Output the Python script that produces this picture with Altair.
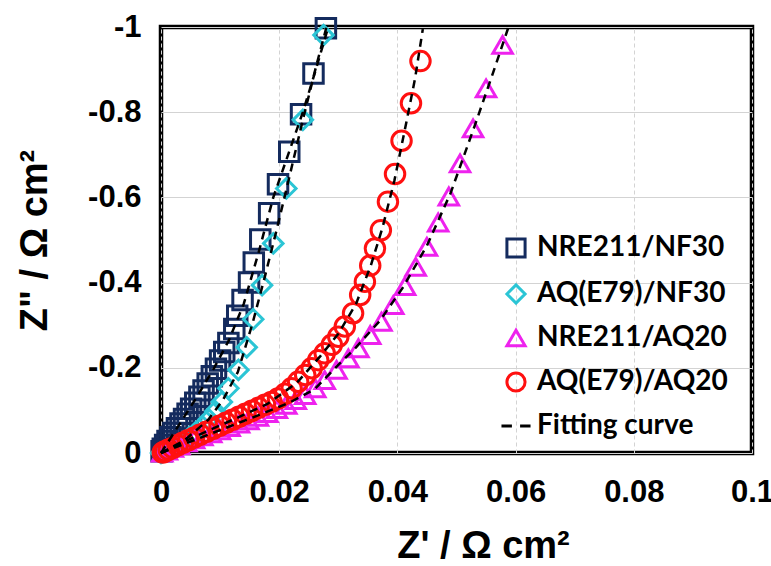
import altair as alt
import pandas as pd

# ---- series definitions -------------------------------------------------
SERIES = ["NRE211/NF30", "AQ(E79)/NF30", "NRE211/AQ20", "AQ(E79)/AQ20", "Fitting curve"]
COLORS = ["#142B5E", "#2BC5D5", "#EE22EE", "#FF1010", "#000000"]
SHAPES = ["square", "diamond", "triangle-up", "circle", "M-1.6,0L-0.45,0M0.45,0L1.6,0"]

# ---- measured impedance (Z' , Z'') in Ohm cm2 ------------------------------
nre_nf_x = [0.0001, 0.0003, 0.0007, 0.0011, 0.0016, 0.0021, 0.0027, 0.0033, 0.0039, 0.0045,
            0.0051, 0.0058, 0.0065, 0.0072, 0.0079, 0.0086, 0.0093, 0.0100, 0.0107, 0.0114,
            0.0124, 0.0129, 0.0138, 0.0149, 0.0157, 0.0168, 0.0183, 0.0198, 0.0217, 0.0237,
            0.0258, 0.0279]
nre_nf_y = [-0.004, -0.010, -0.019, -0.028, -0.037, -0.047, -0.058, -0.069, -0.080, -0.092,
            -0.104, -0.118, -0.132, -0.147, -0.163, -0.180, -0.198, -0.217, -0.237, -0.258,
            -0.291, -0.322, -0.359, -0.400, -0.447, -0.501, -0.563, -0.631, -0.707, -0.795,
            -0.891, -0.997]

aq_nf_x = [0.0000, 0.0003, 0.0010, 0.0019, 0.0028, 0.0038, 0.0048, 0.0059, 0.0070, 0.0081,
           0.0092, 0.0103, 0.0114, 0.0131, 0.0145, 0.0156, 0.0171, 0.0190, 0.0212, 0.0240,
           0.0275]
aq_nf_y = [0.000, -0.002, -0.006, -0.012, -0.019, -0.027, -0.037, -0.049, -0.063, -0.079,
           -0.098, -0.120, -0.152, -0.195, -0.248, -0.314, -0.394, -0.492, -0.621, -0.782,
           -0.981]

nre_aq_x = [0.0002, 0.0010, 0.0020, 0.0031, 0.0043, 0.0056, 0.0070, 0.0085, 0.0100, 0.0116,
            0.0132, 0.0148, 0.0164, 0.0180, 0.0196, 0.0212, 0.0228, 0.0244, 0.0261, 0.0277,
            0.0297, 0.0317, 0.0334, 0.0354, 0.0373, 0.0393, 0.0413, 0.0431, 0.0450, 0.0469,
            0.0487, 0.0506, 0.0528, 0.0550, 0.0578]
nre_aq_y = [-0.001, -0.006, -0.012, -0.018, -0.025, -0.032, -0.039, -0.046, -0.053, -0.061,
            -0.069, -0.077, -0.085, -0.094, -0.103, -0.113, -0.124, -0.136, -0.152, -0.171,
            -0.195, -0.222, -0.246, -0.277, -0.308, -0.347, -0.392, -0.437, -0.484, -0.541,
            -0.602, -0.680, -0.762, -0.856, -0.958]

aq_aq_x = [0.0003, 0.0007, 0.0013, 0.0020, 0.0028, 0.0037, 0.0046, 0.0056, 0.0066, 0.0077,
           0.0088, 0.0099, 0.0110, 0.0121, 0.0132, 0.0143, 0.0154, 0.0165, 0.0176, 0.0187,
           0.0198, 0.0210, 0.0221, 0.0232, 0.0244, 0.0255, 0.0266, 0.0277, 0.0289, 0.0300,
           0.0311, 0.0325, 0.0337, 0.0345, 0.0354, 0.0362, 0.0372, 0.0384, 0.0396, 0.0407,
           0.0423, 0.0439]
aq_aq_y = [-0.001, -0.004, -0.008, -0.012, -0.018, -0.024, -0.030, -0.036, -0.043, -0.050,
           -0.057, -0.064, -0.071, -0.078, -0.085, -0.092, -0.099, -0.106, -0.113, -0.120,
           -0.128, -0.139, -0.152, -0.167, -0.183, -0.199, -0.218, -0.234, -0.254, -0.273,
           -0.297, -0.328, -0.371, -0.402, -0.440, -0.480, -0.523, -0.590, -0.655, -0.733,
           -0.821, -0.920]

# ---- equivalent-circuit fits ---------------------------------------------
fit_nre_nf_x = [0.0, 0.0030, 0.0060, 0.0090, 0.0115, 0.0140, 0.0165, 0.0190, 0.0215, 0.0240, 0.0262, 0.0283]
fit_nre_nf_y = [0.0, -0.065, -0.130, -0.200, -0.265, -0.350, -0.470, -0.600, -0.700, -0.800, -0.900, -1.0]

fit_aq_nf_x = [0.0, 0.0040, 0.0080, 0.0105, 0.0130, 0.0155, 0.0175, 0.0195, 0.0215, 0.0240, 0.0262, 0.0280]
fit_aq_nf_y = [0.0, -0.030, -0.078, -0.125, -0.190, -0.305, -0.410, -0.520, -0.635, -0.782, -0.905, -1.0]

fit_nre_aq_x = [0.0, 0.0080, 0.0160, 0.0220, 0.0260, 0.0295, 0.0330, 0.0370, 0.0410, 0.0450, 0.0490, 0.0530, 0.0560, 0.0588]
fit_nre_aq_y = [0.0, -0.043, -0.086, -0.120, -0.150, -0.200, -0.248, -0.310, -0.390, -0.487, -0.610, -0.765, -0.885, -1.0]

fit_aq_aq_x = [0.0, 0.0060, 0.0120, 0.0180, 0.0230, 0.0270, 0.0300, 0.0330, 0.0355, 0.0375, 0.0395, 0.0415, 0.0430, 0.0443]
fit_aq_aq_y = [0.0, -0.040, -0.077, -0.115, -0.165, -0.228, -0.280, -0.350, -0.440, -0.530, -0.640, -0.775, -0.880, -0.995]

X_TICKS = [0, 0.02, 0.04, 0.06, 0.08, 0.1]
Y_TICKS = [0, -0.2, -0.4, -0.6, -0.8, -1]

# ---- tables --------------------------------------------------------------
measured = [(SERIES[0], nre_nf_x, nre_nf_y), (SERIES[1], aq_nf_x, aq_nf_y),
            (SERIES[2], nre_aq_x, nre_aq_y), (SERIES[3], aq_aq_x, aq_aq_y)]
pts = pd.DataFrame([{"series": s, "zre": x, "zim": y}
                    for s, xs, ys in measured for x, y in zip(xs, ys)])

fits = [("f1", fit_nre_nf_x, fit_nre_nf_y), ("f2", fit_aq_nf_x, fit_aq_nf_y),
        ("f3", fit_nre_aq_x, fit_nre_aq_y), ("f4", fit_aq_aq_x, fit_aq_aq_y)]
fit_df = pd.DataFrame([{"fit": f, "idx": i, "zre": x, "zim": y}
                       for f, xs, ys in fits for i, (x, y) in enumerate(zip(xs, ys))])

AXIS_FONT = "Liberation Sans"

x_enc = alt.X(
    "zre:Q",
    scale=alt.Scale(domain=[0, 0.1], nice=False, zero=False),
    axis=alt.Axis(
        values=X_TICKS, format="~g", title="Z' / Ω cm²",
        grid=True, gridDash=[4, 3], gridColor="#D3D3D3", gridWidth=1,
        domain=False, ticks=False,
        labelFont=AXIS_FONT, labelFontSize=31, labelFontWeight="bold", labelColor="black",
        labelPadding=24, labelFlush=False,
        titleFont=AXIS_FONT, titleFontSize=38, titleFontWeight="bold", titleColor="black",
        titleX=322, titleY=93, titleAlign="center", titleBaseline="middle",
    ),
)

y_enc = alt.Y(
    "zim:Q",
    scale=alt.Scale(domain=[-1, 0], reverse=True, nice=False, zero=False),
    axis=alt.Axis(
        values=Y_TICKS, title='Z" / Ω cm²',
        labelExpr="datum.value == 0 ? '0' : '-' + format(abs(datum.value), '~g')",
        grid=True, gridColor="#D3D3D3", gridWidth=1,
        domain=False, ticks=False,
        labelFont=AXIS_FONT, labelFontSize=31, labelFontWeight="bold", labelColor="black",
        labelPadding=20, labelFlush=False,
        titleFont=AXIS_FONT, titleFontSize=38, titleFontWeight="bold", titleColor="black",
        titleAngle=270, titleX=-126, titleY=213, titleAlign="center", titleBaseline="middle",
    ),
)

legend = alt.Legend(
    title=None, orient="none", legendX=341, legendY=207,
    labelFont="Lato", labelFontSize=28, labelFontWeight="bold", labelColor="black",
    labelLimit=0, symbolSize=330, symbolStrokeWidth=3, labelOffset=7, rowPadding=14,
)

points = alt.Chart(pts).mark_point(filled=False, strokeWidth=3, size=380, opacity=1).encode(
    x=x_enc,
    y=y_enc,
    color=alt.Color("series:N", scale=alt.Scale(domain=SERIES, range=COLORS), legend=legend),
    shape=alt.Shape("series:N", scale=alt.Scale(domain=SERIES, range=SHAPES), legend=legend),
)

fit_lines = alt.Chart(fit_df).mark_line(strokeDash=[8, 6], strokeWidth=2.5, color="black").encode(
    x="zre:Q",
    y="zim:Q",
    detail="fit:N",
    order="idx:Q",
)

chart = alt.layer(points, fit_lines).properties(
    width=591,
    height=426,
    padding={"left": 161, "top": 27, "right": 19, "bottom": 113},
    autosize=alt.AutoSizeParams(type="none"),
).configure_view(
    stroke="black", strokeWidth=4.5,
)

chart.save("out.html", embed_options={"renderer": "svg", "actions": False})
